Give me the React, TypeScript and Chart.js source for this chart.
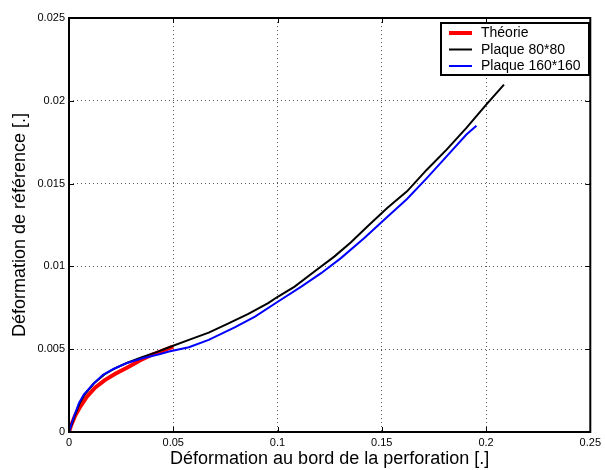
import React, { useEffect, useRef } from "react";
import { Chart, registerables } from "chart.js";

Chart.register(...registerables);

// ---- Data ----
const theoryX = [0, 0.001, 0.003, 0.0055, 0.0085, 0.0125, 0.017, 0.022, 0.028, 0.034, 0.04, 0.045, 0.05];
const theoryY = [0, 0.0004, 0.001, 0.00155, 0.00212, 0.00268, 0.00312, 0.0035, 0.0039, 0.00432, 0.00468, 0.00492, 0.00516];

const plate80X = [0, 0.0025, 0.005, 0.0075, 0.012, 0.017, 0.022, 0.028, 0.035, 0.042, 0.048, 0.0575, 0.067, 0.0765, 0.086, 0.0955, 0.1003, 0.1082, 0.1177, 0.1272, 0.1351, 0.1431, 0.1526, 0.1621, 0.1716, 0.1811, 0.1906, 0.2001, 0.2086];
const plate80Y = [0, 0.0009, 0.0017, 0.00226, 0.00294, 0.00348, 0.00384, 0.00418, 0.00452, 0.00482, 0.00512, 0.00556, 0.006, 0.00656, 0.00713, 0.00778, 0.00818, 0.00878, 0.00969, 0.01059, 0.01145, 0.01241, 0.01352, 0.01453, 0.01584, 0.01705, 0.01836, 0.01977, 0.02098];

const plate160X = [0, 0.0024, 0.0048, 0.0071, 0.0116, 0.0163, 0.0211, 0.0274, 0.0353, 0.0433, 0.048, 0.0575, 0.067, 0.0797, 0.0892, 0.1003, 0.1114, 0.1209, 0.1304, 0.1415, 0.1526, 0.1621, 0.1716, 0.1811, 0.1906, 0.1954];
const plate160Y = [0, 0.00095, 0.00175, 0.00226, 0.0029, 0.00345, 0.00379, 0.00415, 0.00445, 0.00469, 0.00486, 0.00512, 0.00556, 0.00633, 0.00697, 0.00788, 0.00878, 0.00959, 0.0105, 0.0117, 0.01298, 0.01407, 0.01533, 0.01664, 0.01796, 0.0185];

const seriesNames = ["Théorie", "Plaque 80*80", "Plaque 160*160"];
const seriesColors = ["#ff0000", "#000000", "#0000ff"];
const seriesWidths = [4, 2, 2];

const xTicks = [0, 0.05, 0.1, 0.15, 0.2, 0.25];
const yTicks = [0, 0.005, 0.01, 0.015, 0.02, 0.025];
const xTitle = "Déformation au bord de la perforation [.]";
const yTitle = "Déformation de référence [.]";

const FONT = "'Liberation Sans', Arial, Helvetica, sans-serif";

const zip = (xs: number[], ys: number[]) => xs.map((x, i) => ({ x, y: ys[i] }));

const framePlugin = {
  id: "matlabFrame",
  afterDraw(chart: any) {
    const ctx = chart.ctx;
    const { left, right, top, bottom } = chart.chartArea;
    const xs = chart.scales.x;
    const ys = chart.scales.y;
    ctx.save();
    ctx.strokeStyle = "#000";
    ctx.lineWidth = 1;
    const tl = 5;
    xTicks.forEach((v) => {
      const px = Math.round(xs.getPixelForValue(v)) + 0.5;
      ctx.beginPath();
      ctx.moveTo(px, bottom);
      ctx.lineTo(px, bottom - tl);
      ctx.moveTo(px, top);
      ctx.lineTo(px, top + tl);
      ctx.stroke();
    });
    yTicks.forEach((v) => {
      const py = Math.round(ys.getPixelForValue(v)) + 0.5;
      ctx.beginPath();
      ctx.moveTo(left, py);
      ctx.lineTo(left + tl, py);
      ctx.moveTo(right, py);
      ctx.lineTo(right - tl, py);
      ctx.stroke();
    });
    ctx.lineWidth = 2;
    ctx.strokeRect(left, top, right - left, bottom - top);

    // legend box
    const lx = 441, ly = 23, lw = 148, lh = 52;
    ctx.fillStyle = "#fff";
    ctx.fillRect(lx, ly, lw, lh);
    ctx.lineWidth = 2;
    ctx.strokeStyle = "#000";
    ctx.strokeRect(lx, ly, lw, lh);
    ctx.font = `14px ${FONT}`;
    ctx.textBaseline = "middle";
    ctx.textAlign = "left";
    seriesNames.forEach((name, i) => {
      const y = ly + 10 + i * 16.5;
      ctx.strokeStyle = seriesColors[i];
      ctx.lineWidth = seriesWidths[i];
      ctx.beginPath();
      ctx.moveTo(449, y);
      ctx.lineTo(472, y);
      ctx.stroke();
      ctx.fillStyle = "#000";
      ctx.fillText(name, 481, y + 0.5);
    });
    ctx.restore();
  },
};

export default function App() {
  const ref = useRef<HTMLCanvasElement>(null);
  useEffect(() => {
    document.body.style.margin = "0";
    const canvas = ref.current!;
    const datasets = [
      zip(theoryX, theoryY),
      zip(plate80X, plate80Y),
      zip(plate160X, plate160Y),
    ].map((data, i) => ({
      label: seriesNames[i],
      data,
      borderColor: seriesColors[i],
      backgroundColor: seriesColors[i],
      borderWidth: seriesWidths[i],
      pointRadius: 0,
      tension: 0,
      fill: false,
      order: 2 - i,
    }));
    const chart = new Chart(canvas, {
      type: "line",
      data: { datasets: datasets as any },
      options: {
        responsive: false,
        animation: false,
        layout: { padding: { left: 0, top: 18, right: 10, bottom: 0 } },
        plugins: { legend: { display: false }, tooltip: { enabled: false } },
        scales: {
          x: {
            type: "linear",
            min: 0,
            max: 0.25,
            afterFit: (s: any) => { s.height = 38; },
            afterBuildTicks: (s: any) => { s.ticks = xTicks.map((v) => ({ value: v })); },
            ticks: {
              color: "#000",
              font: { family: FONT, size: 11 },
              padding: 4,
              maxRotation: 0,
              callback: (v: any) => String(v),
            },
            grid: { color: "#555", drawTicks: false, lineWidth: 1 },
            border: { display: false, dash: [1, 3] },
            title: {
              display: true,
              text: xTitle,
              color: "#000",
              font: { family: FONT, size: 18 },
              padding: { top: 0, bottom: 0 },
            },
          },
          y: {
            type: "linear",
            min: 0,
            max: 0.025,
            afterFit: (s: any) => { s.width = 69; },
            afterBuildTicks: (s: any) => { s.ticks = yTicks.map((v) => ({ value: v })); },
            ticks: {
              color: "#000",
              font: { family: FONT, size: 11 },
              padding: 4,
              callback: (v: any) => String(v),
            },
            grid: { color: "#555", drawTicks: false, lineWidth: 1 },
            border: { display: false, dash: [1, 3] },
            title: {
              display: true,
              text: yTitle,
              color: "#000",
              font: { family: FONT, size: 18 },
              padding: { top: 9, bottom: 0 },
            },
          },
        },
      },
      plugins: [framePlugin],
    });
    return () => chart.destroy();
  }, []);
  return <canvas ref={ref} width={605} height={470} style={{ display: "block" }} />;
}
